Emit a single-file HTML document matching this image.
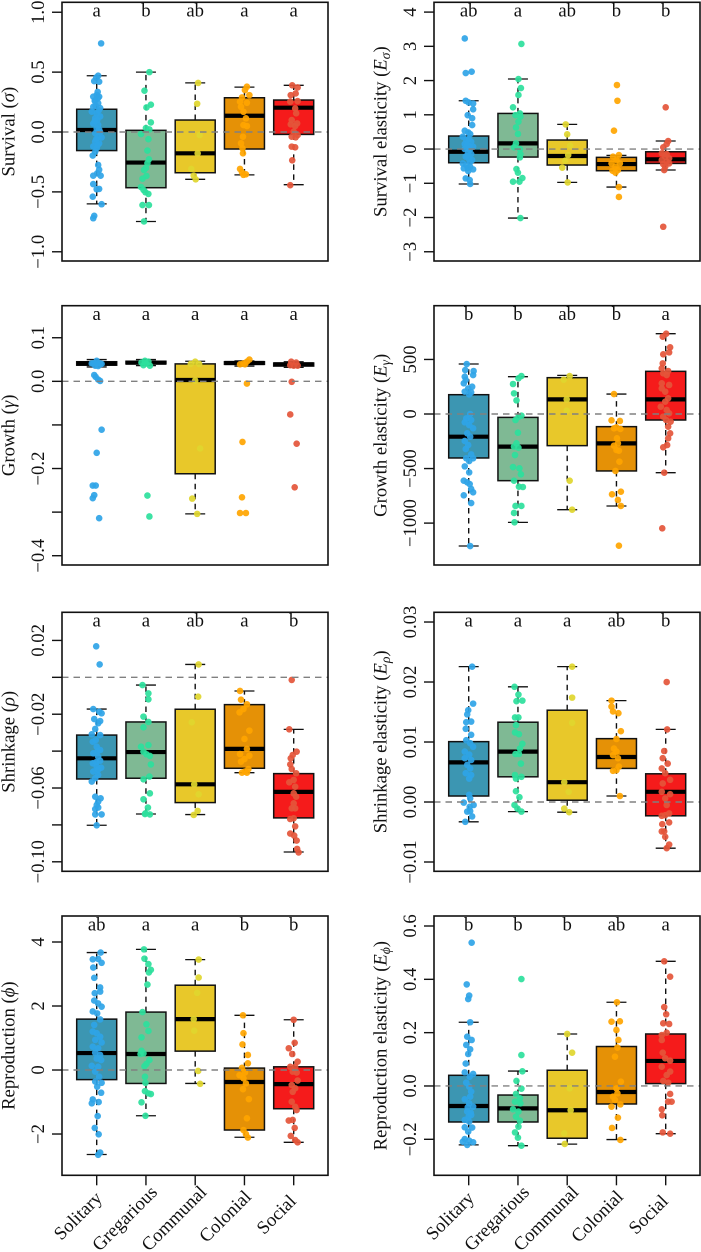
<!DOCTYPE html>
<html lang="en">
<head>
<meta charset="utf-8">
<title>Boxplots of demographic parameters by sociality</title>
<style>
html,body{margin:0;padding:0;background:#fff;}
body{width:701px;height:1252px;overflow:hidden;}
svg{display:block;font-family:"Liberation Serif","DejaVu Serif",serif;}
</style>
</head>
<body>
<svg id="chart" xmlns="http://www.w3.org/2000/svg" width="701" height="1252" viewBox="0 0 701 1252"></svg>
<script>
const categories = ["Solitary","Gregarious","Communal","Colonial","Social"];
const boxColors = ["#3c96b2","#7fb994","#e8c82a","#e59106","#f51b1b"];
const pointColors = ["#2fa4e7","#2ddf9c","#e0d62e","#ffa500","#e4553a"];

/* stats rows: [whisker low, q1, median, q3, whisker high]; points: [jitter % of category spacing, value] */
const survivalStats = [[-.60,-.155,.017,.19,.47],[-.747,-.465,-.255,.014,.50],[-.395,-.34,-.178,.10,.41],[-.358,-.142,.136,.286,.375],[-.44,-.02,.203,.267,.39]];
const survivalLetters = ["a","b","ab","a","a"];
const survivalTicks = [1,.5,0,-.5,-1];
const survivalTickLabels = ["1.0","0.5","0.0","−0.5","−1.0"];
const survivalPoints = [
[[9,.74],[3,.47],[-1,.455],[-5,.425],[5,.42],[2,.335],[-7,.295],[5,.295],[-3,.265],[3,.24],[-7,.21],[7,.2],[-10,.17],[0,.155],[-3,.115],[7,.13],[-7,.07],[3,.06],[0,.03],[7,0],[-3,-.01],[3,-.04],[10,-.045],[-3,-.08],[5,-.095],[-7,-.12],[0,-.135],[-3,-.165],[-8,-.197],[3,-.275],[5,-.315],[8,-.365],[-7,-.365],[1,-.345],[-7,-.435],[5,-.475],[0,-.478],[-8,-.54],[10,-.603],[-5,-.70],[-7,-.72],[2,.28],[-2,.22],[4,.18],[1,.1],[-4,.09],[5,.02],[-1,-.06],[2,-.11],[0,.31],[-4,.26]],
[[7,.5],[-3,.345],[10,.228],[1,.205],[10,.08],[0,.033],[7,.022],[-10,-.017],[5,-.06],[3,-.155],[6,-.228],[3,-.26],[0,-.30],[-4,-.317],[1,-.367],[-7,-.39],[-10,-.46],[-5,-.483],[-1,-.503],[5,-.517],[-7,-.61],[6,-.61],[-4,-.747]],
[[6,.41],[4,.236],[9,-.025],[5,-.178],[-8,-.308],[-3,-.364],[1,-.395]],
[[5,.378],[1,.35],[10,.308],[-5,.289],[-9,.253],[5,.244],[-7,.211],[-2,.169],[3,.114],[-2,.058],[5,.05],[-3,-.039],[-7,-.094],[-4,-.136],[-3,-.178],[-9,-.308],[-5,-.336],[-2,-.358],[3,-.353]],
[[-3,.39],[8,.372],[4,.322],[-6,.308],[8,.258],[-7,.253],[3,.197],[5,.156],[-4,.1],[-6,.064],[7,.072],[3,.05],[0,.003],[8,-.025],[-4,-.039],[4,-.044],[-4,-.122],[3,-.128],[-3,-.236],[-7,-.444]]
];

const survivalElasticityStats = [[-1.02,-.40,-.08,.38,1.41],[-2.016,-.234,.166,1.04,2.045],[-.974,-.467,-.204,.263,.72],[-1.11,-.633,-.438,-.243,-.185],[-.613,-.42,-.30,-.08,.234]];
const survivalElasticityLetters = ["ab","a","ab","b","b"];
const survivalElasticityTicks = [4,3,2,1,0,-1,-2,-3];
const survivalElasticityTickLabels = ["4","3","2","1","0","−1","−2","−3"];
const survivalElasticityPoints = [
[[-8,3.23],[6,2.26],[-6,2.22],[-6,1.41],[0,1.36],[9,1.33],[9,1.16],[-2,.99],[7,.9],[7,.7],[-8,.535],[-1,.487],[3,.438],[-12,.36],[-5,.263],[5,.214],[-8,.146],[1,.088],[9,.07],[-8,0],[-1,-.08],[5,-.146],[-6,-.224],[1,-.3],[7,-.32],[-12,-.42],[-5,-.467],[3,-.516],[-10,-.565],[9,-.594],[-1,-.643],[-6,-.857],[2,-.906],[3,-1.02],[0,.3],[-3,.12],[2,-.02],[-4,-.2],[3,-.38],[-2,-.55]],
[[7,3.07],[1,2.045],[6,1.78],[1,1.58],[-10,1.22],[4,1.04],[-5,.99],[5,.945],[1,.8],[-4,.63],[0,.44],[-4,.166],[-8,.05],[4,0],[5,-.146],[4,-.243],[-3,-.584],[0,-.69],[9,-.847],[-10,-.954],[3,-.954],[5,-2.016]],
[[-3,.72],[0,.43],[6,.097],[2,-.175],[-4,-.34],[-10,-.545],[1,-.974]],
[[1,1.87],[2,1.41],[-5,.535],[5,-.175],[-7,-.224],[0,-.32],[-10,-.42],[7,-.42],[-2,-.516],[-8,-.633],[3,-.613],[-2,-.69],[5,-1.11],[5,-1.40]],
[[0,1.22],[5,.234],[2,.146],[-5,.05],[-8,-.127],[2,-.146],[-1,-.224],[7,-.273],[-8,-.32],[2,-.37],[-5,-.44],[7,-.42],[-1,-.516],[-3,-.613],[-5,-2.27]]
];

const growthStats = [[.033,.037,.041,.045,.05],[.036,.040,.043,.046,.05],[-.304,-.212,.003,.04,.046],[.035,.039,.042,.045,.047],[.032,.035,.039,.042,.045]];
const growthLetters = ["a","a","a","a","a"];
const growthTicks = [.1,0,-.1,-.2,-.3,-.4];
const growthTickLabels = ["0.1","0.0","","−0.2","","−0.4"];
const growthPoints = [
[[0,.047],[-7,.041],[7,.041],[-3,.036],[3,.035],[0,.041],[-10,.041],[10,.04],[-5,.0145],[-2,.01],[3,.004],[7,.001],[10,-.111],[0,-.164],[-8,-.239],[-2,-.239],[-5,-.261],[-8,-.268],[5,-.314]],
[[-9,.043],[-2,.047],[5,.045],[8,.036],[0,.041],[-5,.037],[3,-.262],[7,-.31]],
[[0,.045],[-9,.04],[8,.04],[0,.002],[10,-.154],[-6,-.269],[4,-.304]],
[[-9,.039],[-2,.041],[5,.045],[10,.05],[1,.039],[5,-.005],[-4,-.139],[-5,-.266],[-9,-.302],[3,-.302]],
[[-5,.045],[5,.043],[-7,.037],[0,.036],[8,.036],[-4,-.001],[-7,-.076],[6,-.143],[2,-.243]]
];

const growthElasticityStats = [[-1210,-403,-208,177,458],[-993,-611,-299,-31,342],[-877,-290,134,333,354],[-843,-522,-269,-116,183],[-538,-55,134,391,736]];
const growthElasticityLetters = ["b","b","ab","b","a"];
const growthElasticityTicks = [500,0,-500,-1000];
const growthElasticityTickLabels = ["500","0","−500","−1000"];
const growthElasticityPoints = [
[[-4,458],[-7,403],[10,394],[9,357],[-8,342],[-6,312],[-10,281],[7,250],[-1,235],[-8,205],[5,199],[1,180],[3,0],[-5,-40],[5,-55],[-8,-76],[1,-101],[9,-131],[-3,-177],[3,-208],[-8,-247],[-1,-284],[-6,-321],[5,-370],[-5,-406],[9,-406],[1,-431],[-8,-480],[1,-535],[-10,-611],[-3,-626],[2,-642],[5,-687],[9,-718],[-10,-745],[5,-816],[3,-1210]],
[[7,348],[1,327],[-10,275],[-8,189],[-3,125],[7,-15],[1,-27],[-5,-55],[0,-171],[-3,-269],[-8,-299],[1,-309],[-6,-376],[-10,-486],[3,-498],[6,-553],[-8,-611],[2,-666],[10,-669],[-5,-843],[7,-843],[-8,-907],[-7,-993]],
[[5,348],[-7,315],[-1,134],[-1,31],[5,-611],[10,-877]],
[[-5,183],[-10,-58],[7,-64],[0,-122],[-5,-131],[8,-137],[1,-223],[3,-269],[-5,-290],[0,-330],[5,-336],[6,-437],[-2,-522],[9,-712],[-9,-736],[3,-788],[9,-843],[5,-1207]],
[[1,736],[-6,709],[9,611],[7,565],[-5,547],[-6,464],[-8,419],[5,394],[-5,373],[2,357],[-8,281],[7,266],[-8,235],[-1,205],[5,144],[-1,113],[-10,67],[2,37],[7,6],[-5,-24],[1,-55],[10,-70],[5,-116],[9,-177],[5,-223],[3,-284],[-5,-305],[-3,-538],[-7,-1048]]
];

const shrinkageStats = [[-.0802,-.0551,-.0439,-.0313,-.0172],[-.0741,-.0547,-.0405,-.0242,-.0042],[-.0744,-.0679,-.058,-.0173,.007],[-.0517,-.0493,-.0388,-.0148,-.0074],[-.0947,-.0762,-.0621,-.0522,-.0282]];
const shrinkageLetters = ["a","a","ab","a","b"];
const shrinkageTicks = [.02,0,-.02,-.04,-.06,-.08,-.10];
const shrinkageTickLabels = ["0.02","","−0.02","","−0.06","","−0.10"];
const shrinkagePoints = [
[[-1,.0168],[6,.007],[-7,-.0172],[10,-.0195],[5,-.0186],[-5,-.0226],[7,-.0237],[3,-.0249],[-3,-.028],[-10,-.0309],[7,-.0313],[-8,-.0349],[0,-.0376],[7,-.0394],[-7,-.0412],[3,-.043],[7,-.0452],[-8,-.0466],[0,-.0484],[9,-.049],[-7,-.0511],[3,-.0529],[-3,-.0547],[-10,-.0565],[-3,-.0647],[8,-.0656],[3,-.0674],[0,-.0692],[-3,-.0714],[3,-.0706],[-3,-.0743],[10,-.0743],[0,-.0802],[-2,-.034],[2,-.04],[-1,-.046],[3,-.05]],
[[-7,-.0042],[5,-.0087],[5,-.0119],[-5,-.0213],[5,-.0242],[-5,-.0271],[5,-.0367],[-10,-.0376],[-5,-.0403],[1,-.0417],[8,-.0426],[10,-.0472],[7,-.0538],[-5,-.0553],[8,-.0629],[-5,-.0661],[4,-.0706],[-1,-.0737],[8,-.0743],[-2,-.0741]],
[[7,.007],[6,-.0105],[-7,-.0244],[-2,-.058],[7,-.0634],[5,-.0724],[-3,-.0746]],
[[-9,-.0074],[-7,-.0121],[5,-.0146],[-2,-.0172],[-10,-.019],[10,-.0289],[0,-.0334],[5,-.0388],[-9,-.0416],[10,-.0425],[0,-.0443],[-7,-.0457],[8,-.0497],[1,-.0511],[-5,-.0517],[5,-.0517]],
[[-4,-.0014],[-9,-.0282],[6,-.0403],[-2,-.0421],[-6,-.0439],[-7,-.0472],[-4,-.0497],[5,-.052],[0,-.0556],[-9,-.0569],[3,-.0593],[0,-.0629],[5,-.0647],[0,-.0683],[-4,-.071],[3,-.071],[0,-.0764],[-7,-.0768],[3,-.0808],[-7,-.0847],[1,-.0858],[6,-.0885],[7,-.093],[10,-.0949]]
];

const shrinkageElasticityStats = [[-.0033,.001,.0066,.01006,.02256],[-.0016,.0042,.0084,.0133,.0192],[-.0017,.0003,.0033,.0153,.02256],[.001,.0056,.0075,.01056,.0169],[-.0077,-.0023,.0017,.0047,.0121]];
const shrinkageElasticityLetters = ["a","a","a","ab","b"];
const shrinkageElasticityTicks = [.03,.02,.01,0,-.01];
const shrinkageElasticityTickLabels = ["0.03","0.02","0.01","0.00","−0.01"];
const shrinkageElasticityPoints = [
[[7,.02256],[9,.0164],[-1,.0153],[-3,.0146],[5,.0134],[-5,.0133],[-6,.0122],[5,.0112],[-5,.0103],[3,.0098],[9,.0092],[-8,.0084],[1,.0079],[-8,.0073],[5,.007],[-3,.0062],[3,.0056],[-6,.0048],[5,.0045],[1,.0039],[1,.0012],[3,.0006],[-10,-.0001],[10,-.0005],[2,-.0008],[-3,-.0016],[3,-.0015],[7,-.0024],[-7,-.0033]],
[[-7,.0192],[1,.0179],[-3,.0168],[9,.0169],[-6,.0141],[1,.0141],[-4,.0128],[-6,.0116],[2,.0113],[9,.0097],[4,.0089],[-5,.008],[2,.008],[6,.0064],[-6,.0045],[7,.0042],[-4,.0039],[-4,.0018],[3,.0008],[-7,-.0005],[-1,-.0011],[7,-.0016]],
[[10,.02256],[10,.0174],[10,.0132],[-6,.0033],[3,.0017],[-6,-.0011],[4,-.0017]],
[[-10,.0169],[-10,.0159],[-7,.0151],[4,.0148],[9,.0118],[0,.0105],[-5,.0089],[0,.0084],[3,.0073],[-7,.0078],[5,.0059],[0,.0053],[-7,.0052],[7,.001]],
[[2,.02],[3,.0121],[-3,.0085],[-6,.0073],[4,.0064],[-8,.0056],[-1,.0048],[9,.0037],[-6,.0031],[-8,.0017],[9,.0013],[-1,.0006],[2,-.0005],[7,-.0019],[-1,-.0022],[-8,-.0023],[7,-.0034],[-7,-.0037],[-3,-.0049],[-8,-.0049],[-1,-.0058],[7,-.0071],[2,-.0077]]
];

const reproductionStats = [[-2.64,-.30,.53,1.59,3.67],[-1.43,-.42,.5,1.81,3.77],[-.42,.59,1.59,2.65,3.45],[-2.1,-1.875,-.375,.06,1.71],[-2.26,-1.21,-.44,.1,1.57]];
const reproductionLetters = ["ab","a","a","b","b"];
const reproductionTicks = [4,2,0,-2];
const reproductionTickLabels = ["4","2","0","−2"];
const reproductionPoints = [
[[8,3.67],[-8,3.46],[3,3.47],[10,3.35],[-7,3.2],[-5,2.88],[7,2.58],[7,2.45],[-4,2.4],[-5,2.17],[3,2.08],[10,1.98],[-8,1.83],[1,1.77],[7,1.58],[-5,1.41],[-8,1.2],[0,1.15],[7,1.04],[-3,.94],[10,.86],[-8,.73],[3,.68],[-3,.54],[7,.47],[0,.36],[9,.31],[-10,.13],[3,.1],[-3,-.05],[5,-.21],[-3,-.36],[10,-.4],[1,-.52],[9,-.71],[-8,-.92],[4,-1.0],[-10,-1.04],[2,-1.44],[-4,-1.81],[4,-2.01],[7,-2.58],[3,-2.65]],
[[-4,3.77],[-3,3.48],[5,3.31],[10,3.13],[6,3.05],[3,2.67],[-7,1.81],[1,1.43],[5,1.22],[-9,1.02],[-9,.6],[-5,.52],[-11,.5],[7,.31],[1,.19],[-3,.12],[-2,-.21],[-1,-.4],[-2,-.66],[5,-.73],[10,-.75],[-9,-1.01],[-1,-1.43]],
[[7,3.45],[7,2.89],[4,2.41],[-3,1.59],[-2,1.23],[6,-.03],[10,-.43]],
[[-3,1.71],[-2,1.15],[-4,.8],[7,.47],[7,.21],[-5,.07],[1,-.08],[-10,-.16],[-2,-.26],[3,-.42],[-3,-.6],[9,-.91],[5,-1.51],[-2,-1.875],[3,-2.0],[7,-2.11]],
[[0,1.57],[-10,.68],[2,.85],[-3,.5],[8,.26],[-7,.1],[3,.1],[-2,-.05],[6,-.08],[8,-.33],[-4,-.47],[3,-.57],[-2,-.68],[-4,-.99],[3,-1.15],[6,-1.25],[-2,-1.56],[-10,-1.58],[2,-1.81],[-6,-2.06],[3,-2.19],[8,-2.26]]
];

const reproductionElasticityStats = [[-.221,-.135,-.075,.04,.239],[-.224,-.135,-.084,-.034,.056],[-.218,-.196,-.091,.059,.195],[-.201,-.0675,-.0225,.148,.314],[-.179,.009,.094,.195,.4675]];
const reproductionElasticityLetters = ["b","b","b","ab","a"];
const reproductionElasticityTicks = [.6,.4,.2,0,-.2];
const reproductionElasticityTickLabels = ["0.6","0.4","0.2","0.0","−0.2"];
const reproductionElasticityPoints = [
[[6,.5375],[-4,.381],[1,.339],[-1,.326],[3,.239],[-3,.185],[6,.1725],[-5,.154],[3,.1375],[-1,.12],[-6,.084],[-8,.051],[9,.045],[2,.035],[-5,.0125],[1,-.0025],[5,-.021],[-8,-.05],[1,-.065],[9,-.0775],[-3,-.096],[5,-.109],[-8,-.1275],[1,-.134],[-8,-.155],[7,-.156],[-1,-.171],[-8,-.199],[1,-.205],[9,-.211],[-12,-.209],[-3,-.221],[3,-.04],[-2,-.08],[4,-.1],[0,-.115]],
[[7,.401],[7,.116],[9,.055],[-3,.019],[7,-.01],[-4,-.03],[4,-.046],[-6,-.059],[5,-.065],[-10,-.0875],[1,-.096],[-4,-.115],[4,-.13],[1,-.1525],[-6,-.174],[0,-.194],[7,-.224]],
[[0,.195],[10,.125],[5,-.009],[7,-.091],[-6,-.1775],[-5,-.2175]],
[[1,.314],[-10,.241],[7,.2425],[0,.21],[4,.1725],[2,.144],[-3,.11],[9,.016],[0,-.009],[-7,-.04],[2,-.0275],[-3,-.0525],[8,-.069],[-10,-.0775],[3,-.119],[-9,-.1575],[8,-.2025]],
[[-3,.4675],[9,.41],[-3,.296],[1,.269],[-5,.235],[7,.2325],[-8,.191],[2,.2],[-8,.1725],[-6,.125],[9,.095],[-1,.104],[-8,.0725],[9,.054],[2,.041],[-5,.019],[5,.0125],[9,-.03],[5,-.059],[12,-.059],[-8,-.0875],[-7,-.11],[-6,-.174],[9,-.179]]
];

/* layout */
const leftX = [62, 328];
const rightX = [434, 700];
const rows = [[2.3,261],[305.7,565],[612.3,871.3],[916,1175.3]];

const panels = [
 {id:"survival",col:leftX,row:rows[0],lim:[-1.077,1.083],stats:survivalStats,pts:survivalPoints,letters:survivalLetters,ticks:survivalTicks,labels:survivalTickLabels,title:[["Survival ("],["σ","i"],[")"]]},
 {id:"survival-elasticity",col:rightX,row:rows[0],lim:[-3.27,4.286],stats:survivalElasticityStats,pts:survivalElasticityPoints,letters:survivalElasticityLetters,ticks:survivalElasticityTicks,labels:survivalElasticityTickLabels,title:[["Survival elasticity ("],["E","i"],["σ","s"],[")"]]},
 {id:"growth",col:leftX,row:rows[1],lim:[-.4213,.1735],stats:growthStats,pts:growthPoints,letters:growthLetters,ticks:growthTicks,labels:growthTickLabels,title:[["Growth ("],["γ","i"],[")"]]},
 {id:"growth-elasticity",col:rightX,row:rows[1],lim:[-1384,992.7],stats:growthElasticityStats,pts:growthElasticityPoints,letters:growthElasticityLetters,ticks:growthElasticityTicks,labels:growthElasticityTickLabels,title:[["Growth elasticity ("],["E","i"],["γ","s"],[")"]]},
 {id:"shrinkage",col:leftX,row:rows[2],lim:[-.10515,.03525],stats:shrinkageStats,pts:shrinkagePoints,letters:shrinkageLetters,ticks:shrinkageTicks,labels:shrinkageTickLabels,title:[["Shrinkage ("],["ρ","i"],[")"]]},
 {id:"shrinkage-elasticity",col:rightX,row:rows[2],lim:[-.01155,.03162],stats:shrinkageElasticityStats,pts:shrinkageElasticityPoints,letters:shrinkageElasticityLetters,ticks:shrinkageElasticityTicks,labels:shrinkageElasticityTickLabels,title:[["Shrinkage elasticity ("],["E","i"],["ρ","s"],[")"]]},
 {id:"reproduction",col:leftX,row:rows[3],lim:[-3.29,4.8125],stats:reproductionStats,pts:reproductionPoints,letters:reproductionLetters,ticks:reproductionTicks,labels:reproductionTickLabels,title:[["Reproduction ("],["ϕ","i"],[")"]],xaxis:true},
 {id:"reproduction-elasticity",col:rightX,row:rows[3],lim:[-.335,.6375],stats:reproductionElasticityStats,pts:reproductionElasticityPoints,letters:reproductionElasticityLetters,ticks:reproductionElasticityTicks,labels:reproductionElasticityTickLabels,title:[["Reproduction elasticity ("],["E","i"],["ϕ","s"],[")"]],xaxis:true}
];

const NS = "http://www.w3.org/2000/svg";
const svg = document.getElementById("chart");
const FONT = 18.7, INK = "#111";

function mk(parent, tag, attrs, txt) {
  const e = document.createElementNS(NS, tag);
  for (const k in attrs) e.setAttribute(k, attrs[k]);
  if (txt !== undefined) e.textContent = txt;
  parent.appendChild(e);
  return e;
}

panels.forEach(function (p) {
  const x0 = p.col[0], x1 = p.col[1], yT = p.row[0], yB = p.row[1];
  const yScale = function (v) { return yB - (v - p.lim[0]) / (p.lim[1] - p.lim[0]) * (yB - yT); };
  const step = 49.25;
  const xScale = function (i) { return x0 + 34.7 + step * i; };

  const g = mk(svg, "g", {});
  
  

  /* boxes */
  p.stats.forEach(function (s, i) {
    const cx = xScale(i), hw = 20, capW = 10;
    const bg = mk(g, "g", {});
    
    
    const dash = {stroke: INK, "stroke-width": 1.4, "stroke-dasharray": "5.5 4.5"};
    mk(bg, "line", Object.assign({x1: cx, x2: cx, y1: yScale(s[3]), y2: yScale(s[4])}, dash));
    mk(bg, "line", Object.assign({x1: cx, x2: cx, y1: yScale(s[1]), y2: yScale(s[0])}, dash));
    mk(bg, "line", {x1: cx - capW, x2: cx + capW, y1: yScale(s[4]), y2: yScale(s[4]), stroke: INK, "stroke-width": 1.3});
    mk(bg, "line", {x1: cx - capW, x2: cx + capW, y1: yScale(s[0]), y2: yScale(s[0]), stroke: INK, "stroke-width": 1.3});
    mk(bg, "rect", {x: cx - hw, width: 2 * hw, y: yScale(s[3]), height: Math.max(yScale(s[1]) - yScale(s[3]), 0.5), fill: boxColors[i], stroke: INK, "stroke-width": 1.5});
    mk(bg, "line", {x1: cx - hw, x2: cx + hw, y1: yScale(s[2]), y2: yScale(s[2]), stroke: "#000", "stroke-width": 4.2});
  });

  /* jittered points */
  p.pts.forEach(function (arr, i) {
    const pg = mk(g, "g", {fill: pointColors[i], "fill-opacity": 0.92});
    
    
    arr.forEach(function (pt) {
      mk(pg, "circle", {cx: xScale(i) + pt[0] / 100 * step, cy: yScale(pt[1]), r: 3.3});
    });
  });

  /* zero reference line */
  const zero = mk(g, "line", {x1: x0, x2: x1, y1: yScale(0), y2: yScale(0), stroke: "#808080", "stroke-width": 1.4, "stroke-dasharray": "6.5 5"});
  
  

  /* significance letters */
  p.letters.forEach(function (t, i) {
    const l = mk(g, "text", {x: xScale(i), y: yT + 14.3, "text-anchor": "middle", "font-size": FONT, fill: INK}, t);
    
    
  });

  /* frame */
  const frame = mk(g, "rect", {x: x0, y: yT, width: x1 - x0, height: yB - yT, fill: "none", stroke: INK, "stroke-width": 1.6});
  
  

  /* y axis */
  const tickBase = x0 - 18;
  p.ticks.forEach(function (v, i) {
    const ty = yScale(v);
    const tick = mk(g, "line", {x1: x0 - 10, x2: x0, y1: ty, y2: ty, stroke: INK, "stroke-width": 1.4});
    
    
    if (p.labels[i]) {
      const lab = mk(g, "text", {transform: "translate(" + tickBase + "," + ty + ") rotate(-90)", "text-anchor": "middle", "font-size": FONT, fill: INK}, p.labels[i]);
      
      
    }
  });

  /* y title */
  const title = mk(g, "text", {transform: "translate(" + (x0 - 47.5) + "," + ((yT + yB) / 2) + ") rotate(-90)", "text-anchor": "middle", "font-size": FONT, fill: INK});
  
  
  let lowered = false;
  p.title.forEach(function (seg) {
    const a = {};
    if (seg[1] === "i") a["font-style"] = "italic";
    if (seg[1] === "s") { a["font-style"] = "italic"; a["font-size"] = FONT * 0.72; a.dy = 3.5; lowered = true; }
    else if (lowered) { a.dy = -3.5; lowered = false; }
    mk(title, "tspan", a, seg[0]);
  });

  /* x axis */
  if (p.xaxis) {
    categories.forEach(function (c, i) {
      const cx = xScale(i);
      const tk = mk(g, "line", {x1: cx, x2: cx, y1: yB, y2: yB + 10, stroke: INK, "stroke-width": 1.4});
      
      
      const lb = mk(g, "text", {"text-anchor": "end", "font-size": FONT, fill: INK}, c);
      
      
      const over = 0.2475 * lb.getComputedTextLength();
      lb.setAttribute("transform", "translate(" + (cx - 8.2 + over) + "," + (yB + 38.5 - over) + ") rotate(-45)");
    });
  }
});
</script>
</body>
</html>
